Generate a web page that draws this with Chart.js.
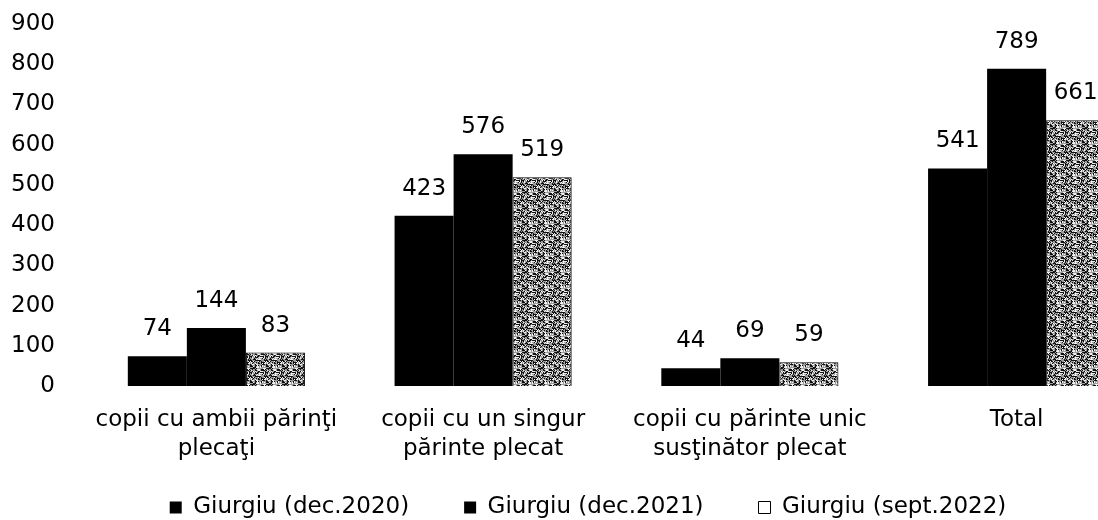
<!DOCTYPE html>
<html>
<head>
<meta charset="utf-8">
<script src="https://cdn.jsdelivr.net/npm/chart.js@4"></script>
<style>
  html, body { margin: 0; padding: 0; background: #fff; overflow: hidden; }
  #wrap { width: 1184px; height: 520px; }
</style>
</head>
<body>
<div id="wrap"><canvas id="chart"></canvas></div>
<script>
// date
const categorii = [
    ['copii cu ambii părinţi', 'plecaţi'],
    ['copii cu un singur', 'părinte plecat'],
    ['copii cu părinte unic', 'susţinător plecat'],
    'Total'
];
const serii = ['Giurgiu (dec.2020)', 'Giurgiu (dec.2021)', 'Giurgiu (sept.2022)'];
const dec2020 = [74, 423, 44, 541];
const dec2021 = [144, 576, 69, 789];
const sept2022 = [83, 519, 59, 661];
const yTicks = [0, 100, 200, 300, 400, 500, 600, 700, 800, 900];

const FONT = { family: 'DejaVu Sans', size: 23, lineHeight: 1.26 };

// textura gri (zgomot fix) pentru seria 2022
function texturaGri() {
    const n = 16;
    const c = document.createElement('canvas');
    c.width = n; c.height = n;
    const g = c.getContext('2d');
    g.fillStyle = '#9c9c9c';
    g.fillRect(0, 0, n, n);
    for (let x = 0; x < n; x++) {
        for (let y = 0; y < n; y++) {
            const h = (((x * 73856093) ^ (y * 19349663) ^ (x * y * 83492791)) >>> 0) % 100;
            if (h < 36) { g.fillStyle = '#111'; g.fillRect(x, y, 1, 1); }
            else if (h < 58) { g.fillStyle = '#f2f2f2'; g.fillRect(x, y, 1, 1); }
        }
    }
    return g.createPattern(c, 'repeat');
}

// etichete cu valori deasupra barelor
const eticheteValori = {
    id: 'eticheteValori',
    afterDatasetsDraw(chart) {
        const ctx = chart.ctx;
        ctx.save();
        ctx.font = FONT.size + 'px "' + FONT.family + '"';
        ctx.fillStyle = '#000';
        ctx.textAlign = 'center';
        ctx.textBaseline = 'middle';
        chart.data.datasets.forEach((ds, i) => {
            chart.getDatasetMeta(i).data.forEach((bar, j) => {
                ctx.fillText(ds.data[j], bar.x, bar.y - 27);
            });
        });
        ctx.restore();
    }
};

// etichetele axei x pe doua randuri nu trebuie taiate; legenda putin mai la dreapta
const ajustareLayout = {
    id: 'ajustareLayout',
    afterLayout(chart) {
        chart.scales.x.bottom = chart.height;
        const lg = chart.legend;
        lg.left += 13; lg.right += 13;
        lg.top += 3; lg.bottom += 3;
    }
};

const ctx = document.getElementById('chart').getContext('2d');
new Chart(ctx, {
    type: 'bar',
    data: {
        labels: categorii,
        datasets: [
            { label: serii[0], data: dec2020, backgroundColor: '#000', borderWidth: 0 },
            { label: serii[1], data: dec2021, backgroundColor: '#000', borderWidth: 0 },
            { label: serii[2], data: sept2022, backgroundColor: texturaGri(), borderColor: '#000', borderWidth: 1 }
        ]
    },
    options: {
        responsive: true,
        maintainAspectRatio: false,
        animation: false,
        layout: { padding: { top: 0, right: 34, bottom: -6, left: 0 } },
        datasets: { bar: { barPercentage: 1, categoryPercentage: 0.664 } },
        plugins: {
            legend: {
                position: 'bottom',
                labels: {
                    color: '#000',
                    font: FONT,
                    boxWidth: 12,
                    boxHeight: 12,
                    padding: 55,
                    generateLabels(chart) {
                        const items = Chart.defaults.plugins.legend.labels.generateLabels(chart);
                        items.forEach((it, i) => {
                            if (i === 2) { it.fillStyle = '#fff'; it.strokeStyle = '#000'; it.lineWidth = 1; }
                            else { it.fillStyle = '#000'; it.lineWidth = 0; }
                        });
                        return items;
                    }
                }
            },
            tooltip: { enabled: false }
        },
        scales: {
            x: {
                grid: { display: false, drawTicks: false },
                border: { display: false },
                ticks: { color: '#000', font: FONT, padding: 20, maxRotation: 0, autoSkip: false },
                afterFit(scale) { scale.height = 52; }
            },
            y: {
                min: 0,
                max: 900,
                grid: { display: false, drawTicks: false },
                border: { display: false },
                afterBuildTicks(scale) { scale.ticks = yTicks.map(v => ({ value: v })); },
                ticks: { color: '#000', font: FONT, padding: 28 },
                afterFit(scale) {
                    scale.width = 83;
                    scale.paddingTop = 24;
                    scale.paddingBottom = 0;
                }
            }
        }
    },
    plugins: [eticheteValori, ajustareLayout]
});
</script>
</body>
</html>
